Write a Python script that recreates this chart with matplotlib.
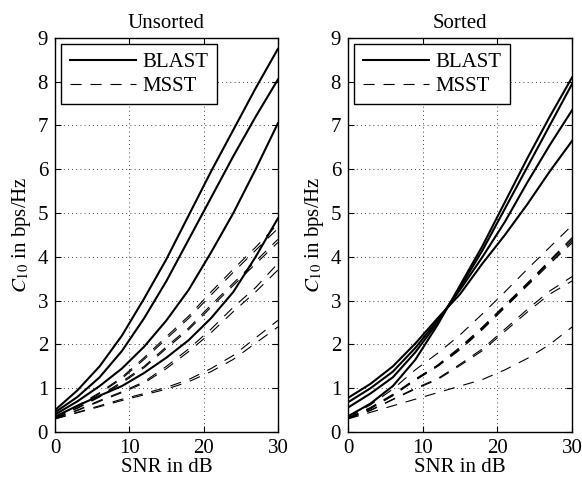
import matplotlib.pyplot as plt
import numpy as np

# SNR grid (dB)
snr = [0, 3, 6, 9, 12, 15, 18, 21, 24, 27, 30]

# unsorted
blast_unsorted = [
    [0.50, 0.95, 1.50, 2.20, 3.05, 3.95, 4.95, 5.95, 6.90, 7.85, 8.75],
    [0.45, 0.80, 1.25, 1.85, 2.60, 3.45, 4.40, 5.35, 6.30, 7.20, 8.05],
    [0.40, 0.70, 1.05, 1.45, 1.95, 2.55, 3.25, 4.10, 5.00, 6.00, 7.05],
    [0.35, 0.60, 0.83, 1.05, 1.35, 1.70, 2.10, 2.60, 3.20, 4.00, 4.88],
]
msst_unsorted = [
    [0.35, 0.60, 0.90, 1.25, 1.70, 2.18, 2.65, 3.20, 3.72, 4.22, 4.75],
    [0.34, 0.58, 0.88, 1.22, 1.66, 2.13, 2.60, 3.13, 3.65, 4.15, 4.65],
    [0.33, 0.55, 0.82, 1.15, 1.50, 1.95, 2.38, 2.90, 3.40, 3.90, 4.40],
    [0.33, 0.54, 0.80, 1.12, 1.47, 1.91, 2.34, 2.85, 3.35, 3.84, 4.33],
    [0.32, 0.50, 0.72, 0.92, 1.15, 1.50, 1.90, 2.35, 2.85, 3.30, 3.85],
    [0.31, 0.49, 0.70, 0.90, 1.12, 1.45, 1.84, 2.27, 2.75, 3.20, 3.70],
    [0.30, 0.45, 0.60, 0.75, 0.88, 1.02, 1.20, 1.45, 1.75, 2.15, 2.55],
    [0.30, 0.44, 0.58, 0.72, 0.85, 0.98, 1.15, 1.38, 1.66, 2.03, 2.40],
]

# sorted
blast_sorted = [
    [0.78, 1.10, 1.50, 2.02, 2.60, 3.15, 3.85, 4.50, 5.20, 5.95, 6.65],
    [0.68, 1.00, 1.38, 1.92, 2.55, 3.25, 4.00, 4.80, 5.70, 6.55, 7.35],
    [0.56, 0.88, 1.25, 1.82, 2.50, 3.30, 4.15, 5.10, 6.05, 7.00, 7.95],
    [0.36, 0.65, 1.05, 1.65, 2.45, 3.35, 4.25, 5.25, 6.25, 7.20, 8.10],
]
msst_sorted = [
    [0.33, 0.62, 0.98, 1.42, 1.80, 2.22, 2.70, 3.20, 3.72, 4.22, 4.72],
    [0.32, 0.56, 0.86, 1.21, 1.53, 1.94, 2.40, 2.90, 3.40, 3.92, 4.44],
    [0.32, 0.55, 0.85, 1.20, 1.52, 1.92, 2.38, 2.88, 3.38, 3.90, 4.40],
    [0.32, 0.54, 0.84, 1.19, 1.51, 1.90, 2.36, 2.86, 3.36, 3.87, 4.36],
    [0.31, 0.53, 0.83, 1.18, 1.50, 1.88, 2.34, 2.84, 3.34, 3.84, 4.32],
    [0.31, 0.50, 0.75, 1.00, 1.22, 1.55, 1.90, 2.35, 2.80, 3.22, 3.55],
    [0.31, 0.49, 0.74, 0.98, 1.20, 1.52, 1.86, 2.30, 2.74, 3.15, 3.45],
    [0.30, 0.45, 0.60, 0.75, 0.90, 1.05, 1.20, 1.42, 1.68, 2.00, 2.40],
]

plt.rcParams['font.family'] = ['Liberation Serif', 'DejaVu Serif']
plt.rcParams['mathtext.fontset'] = 'stix'

fig = plt.figure(figsize=(5.82, 4.86), dpi=100)
ax1 = fig.add_axes([0.0945, 0.111, 0.383, 0.811])
ax2 = fig.add_axes([0.598, 0.111, 0.385, 0.811])

dash = (0, (10, 8))
for ax, bl, ms, title in [(ax1, blast_unsorted, msst_unsorted, 'Unsorted'),
                          (ax2, blast_sorted, msst_sorted, 'Sorted')]:
    for i, y in enumerate(bl):
        ax.plot(snr, y, color='black', lw=1.5, label='BLAST' if i == 0 else None)
    for i, y in enumerate(ms):
        ax.plot(snr, y, color='black', lw=0.8, linestyle=dash, label='MSST' if i == 0 else None)
    ax.set_xlim(0, 30)
    ax.set_ylim(0, 9)
    ax.set_xticks([0, 10, 20, 30])
    ax.set_yticks(range(10))
    ax.grid(True, color='black', linestyle=(0, (1, 4)), lw=0.6)
    ax.tick_params(direction='in', labelsize=15, top=True, right=True, length=4, pad=5)
    for s in ax.spines.values():
        s.set_linewidth(1.0)
    ax.set_title(title, fontsize=15, pad=7)
    ax.set_xlabel('SNR in dB', fontsize=15, labelpad=0)
    ax.set_ylabel('$C_{10}$ in bps/Hz', fontsize=15, labelpad=3)
    leg = ax.legend(loc='upper left', fontsize=15, fancybox=False, framealpha=1,
                    edgecolor='black', handlelength=3.2, borderpad=0.4,
                    labelspacing=0.2, handletextpad=0.3, borderaxespad=0.3)
    leg.get_frame().set_linewidth(1.0)

fig.savefig('out.png', dpi=100)
